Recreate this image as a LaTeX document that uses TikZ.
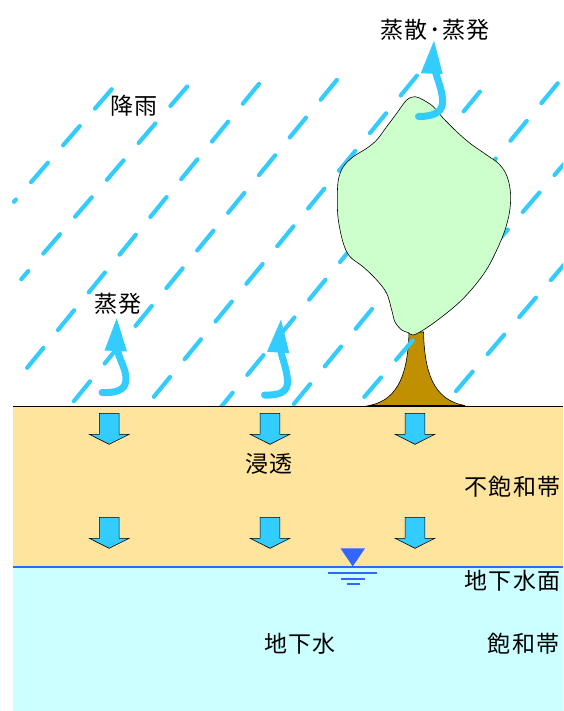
\documentclass[tikz,border=0pt]{standalone}
\usepackage{fontspec}
\newfontfamily\jpfont{Noto Sans CJK JP}[LetterSpace=6]
\usetikzlibrary{calc}
\definecolor{rainblue}{HTML}{33CCFF}
\definecolor{soil}{HTML}{FFE49E}
\definecolor{groundwater}{HTML}{CCFFFF}
\definecolor{tableblue}{HTML}{3366FF}
\definecolor{leaf}{HTML}{CCFFCC}
\definecolor{bark}{HTML}{C09000}

\begin{document}
\begin{tikzpicture}[x=1pt,y=-1pt,
  rain/.style={draw=rainblue, line width=4.2pt, line cap=round,
    dash pattern=on 25.6pt off 23.1pt, dash phase=46.6pt},
  vapour/.style={draw=rainblue, line width=7pt, line cap=round},
  vapourhead/.style={fill=rainblue},
  seep/.style={fill=rainblue, draw=black, line width=0.6pt, line join=miter},
  outline/.style={draw=black, line width=0.6pt},
  jptext/.style={font=\jpfont\fontsize{23pt}{27pt}\selectfont, inner sep=0pt, anchor=base},
]
\useasboundingbox (0,0) rectangle (563,711);
\clip (0,0) rectangle (563,711);

% trunk
\draw[outline, fill=bark] (409,332) .. controls (408,370) and (400,400) .. (369,405.5)
  -- (465,405.5) .. controls (432,400) and (424.5,370) .. (423.5,332) -- cycle;

% rain streaks
\begin{scope}
  \clip (12,0) rectangle (563,406);
  \draw[rain] (113.1,87.7) -- (14,201.8);
  \draw[rain] (188.5,85) -- (21.3,279.2);
  \draw[rain] (260.3,82.3) -- (16.8,380.5);
  \draw[rain] (338.2,78.3) -- (59.5,418.7);
  \draw[rain] (418.3,74) -- (133.1,422.1);
  \draw[rain] (481.2,90) -- (208.4,422.3);
  \draw[rain] (559,81.7) -- (273.1,429.2);
  \draw[rain] (572.5,154) -- (344.7,419.8);
  \draw[rain] (568.9,259) -- (426,426.3);
\end{scope}

% crown
\draw[outline, fill=leaf] plot[smooth cycle, tension=0.55] coordinates {
  (415,96.7) (423.3,100) (433.3,106.7) (443.3,118.3) (456.7,131.7) (470,143.3)
  (486.7,155) (498,163) (505,172) (509,183) (510.7,197) (509.3,213.3) (505,230)
  (498.3,246.7) (488.3,266.7) (476.7,283.3) (460,301.7) (440,318.3) (423.3,330)
  (413,335) (408,332.5) (401.7,330) (395,322) (391.7,310) (386.7,293.3)
  (376.7,280) (363.3,267) (350,256.7) (343.3,243.3) (338.3,220) (337.3,200)
  (338.3,180) (343.3,166.7) (353.3,156.7) (366.7,148.3) (376.7,140)
  (386.7,126.7) (396.7,113.3) (406.7,100)};

% unsaturated zone and groundwater
\fill[soil] (12.9,406) rectangle (563,566.7);
\fill[groundwater] (12.9,566.7) rectangle (563,711);
\draw[black, line width=1pt] (12.9,406) -- (563,406);
\draw[tableblue, line width=2pt] (12.9,566.7) -- (563,566.7);

% water table mark
\fill[tableblue] (340.5,548.3) -- (365,548.3) -- (352.7,566.5) -- cycle;
\draw[tableblue, line width=2pt] (328.3,572.7) -- (377.3,572.7);
\draw[tableblue, line width=2pt] (340.7,579) -- (365,579);
\draw[tableblue, line width=2pt] (346.7,584.3) -- (360,584.3);

% infiltration arrows
\foreach \cx in {109.2,270,415}
  \foreach \cy in {413.3,517.3}
    \draw[seep] (\cx-9.9,\cy) -- (\cx+9.9,\cy) -- (\cx+9.9,\cy+21) -- (\cx+19.9,\cy+21)
      -- (\cx,\cy+31) -- (\cx-19.9,\cy+21) -- (\cx-9.9,\cy+21) -- cycle;

% evaporation arrows
\draw[vapour] (102,392.5) .. controls (115,393) and (126,391) .. (126,379)
  .. controls (126,368) and (119,360) .. (117,348);
\fill[vapourhead] (104.5,350.5) -- (127,351.5) -- (116.7,318.3) -- cycle;

\draw[vapour] (264.5,395) .. controls (278,395.5) and (288,393) .. (287.5,381)
  .. controls (287,370) and (283,361) .. (280.5,350);
\fill[vapourhead] (267,351.7) -- (289.3,353.3) -- (281,319.5) -- cycle;

\draw[vapour] (418.5,116.5) .. controls (432,116.5) and (442,113) .. (442.5,103)
  .. controls (443,93) and (439,84) .. (435.5,72);
\fill[vapourhead] (420.7,73.3) -- (442.7,74) -- (434,40.7) -- cycle;

% labels
\node[jptext] (rainfall) at (134,114.7) {降雨};
\node[jptext] (transp) at (435,38.7) {蒸散･蒸発};
\node[jptext] (evap) at (118.3,312) {蒸発};
\node[jptext] (infil) at (269.3,472) {浸透};
\node[jptext, anchor=base east] (unsat) at (560.7,495.4) {不飽和帯};
\node[jptext, anchor=base east] (wtable) at (560.7,589.7) {地下水面};
\node[jptext, anchor=base east] (sat) at (559.7,652) {飽和帯};
\node[jptext] (gw) at (300,652) {地下水};
\end{tikzpicture}
\end{document}
